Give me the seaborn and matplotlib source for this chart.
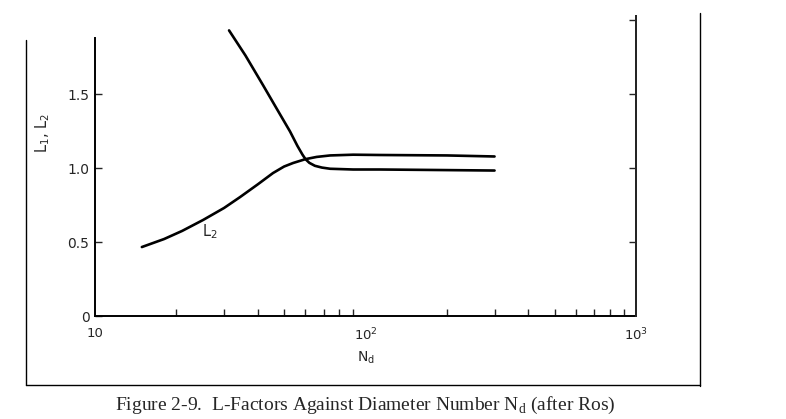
import numpy as np
import pandas as pd
import seaborn as sns
import matplotlib
matplotlib.use('Agg')
import matplotlib.pyplot as plt
from matplotlib.lines import Line2D
from matplotlib.ticker import FixedLocator, NullFormatter

# ── data ─────────────────────────────────────────────────────────
l1_nd = [31.3, 36, 41.8, 47, 52.6, 56, 58.5, 60, 62, 65, 69, 74, 90, 113, 173, 300]
l1_val = [1.93, 1.76, 1.56, 1.40, 1.247, 1.15, 1.09, 1.06, 1.035, 1.015, 1.003, 0.995,
          0.99, 0.99, 0.987, 0.983]
l2_nd = [14.9, 18, 21, 25.1, 30, 34.4, 40, 45.5, 50, 54, 60, 66, 74, 90, 113, 200, 300]
l2_val = [0.466, 0.52, 0.575, 0.649, 0.73, 0.804, 0.89, 0.966, 1.01, 1.034, 1.06,
          1.075, 1.085, 1.09, 1.088, 1.085, 1.078]
y_ticks = [0, 0.5, 1.0, 1.5]
y_tick_labels = ['0', '0.5', '1.0', '1.5']
right_ticks = [0.5, 1.0, 1.5, 2.0]
x_ticks = [10, 100, 1000]
x_tick_labels = ['10', '10$^2$', '10$^3$']

df1 = pd.DataFrame({'Nd': l1_nd, 'L': l1_val})
df2 = pd.DataFrame({'Nd': l2_nd, 'L': l2_val})

sns.set_style('ticks')
plt.rcParams['font.family'] = ['DejaVu Sans']

fig = plt.figure(figsize=(7.86, 4.19), dpi=100)
ax = fig.add_axes([95 / 786, 1 - 316 / 419, (636 - 95) / 786, (316 - 15.6) / 419])

sns.lineplot(data=df1, x='Nd', y='L', ax=ax, color='black', lw=1.9,
             sort=False, estimator=None)
sns.lineplot(data=df2, x='Nd', y='L', ax=ax, color='black', lw=1.9,
             sort=False, estimator=None)

ax.set_xscale('log')
ax.set_xlim(10, 1000)
ax.set_ylim(0, 2.03)

ax.xaxis.set_major_locator(FixedLocator(x_ticks))
ax.set_xticklabels(x_tick_labels)
minors = [m * 10 ** e for e in (1, 2) for m in range(2, 10)]
ax.xaxis.set_minor_locator(FixedLocator(minors))
ax.xaxis.set_minor_formatter(NullFormatter())
ax.tick_params(axis='x', which='major', direction='in', length=0, pad=8, labelsize=9.5)
ax.tick_params(axis='x', which='minor', direction='in', length=5, width=1)

ax.set_yticks(y_ticks)
ax.set_yticklabels(y_tick_labels)
ax.tick_params(axis='y', direction='in', length=5, width=1, labelsize=10, pad=4)

ax.spines['top'].set_visible(False)
ax.spines['left'].set_bounds(0, 1.88)
for s in ('left', 'bottom', 'right'):
    ax.spines[s].set_linewidth(1.4)
    ax.spines[s].set_color('black')

# right spine ticks (inward, no labels)
ax2 = ax.twinx()
ax2.set_ylim(ax.get_ylim())
ax2.set_yticks(right_ticks)
ax2.set_yticklabels([])
ax2.tick_params(axis='y', direction='in', length=5, width=1)
for s in ('top', 'left', 'bottom'):
    ax2.spines[s].set_visible(False)
ax2.spines['right'].set_linewidth(1.4)

ax.set_xlabel('N$_\\mathregular{d}$', fontsize=10, labelpad=4)
ax.set_ylabel('L$_\\mathregular{1}$, L$_\\mathregular{2}$', fontsize=10.5)
ax.yaxis.set_label_coords(-0.079, 0.61)
ax.text(26.6, 0.57, 'L$_\\mathregular{2}$', fontsize=10.5, ha='center', va='center')

# outer frame (no top line)
frame = dict(color='black', lw=1.0, transform=fig.transFigure)
fig.add_artist(Line2D([26 / 786, 26 / 786], [1 - 40 / 419, 1 - 385 / 419], **frame))
fig.add_artist(Line2D([26 / 786, 700 / 786], [1 - 385 / 419, 1 - 385 / 419], **frame))
fig.add_artist(Line2D([700 / 786, 700 / 786], [1 - 13 / 419, 1 - 386 / 419], **frame))

fig.text(365 / 786, 1 - 405 / 419,
         'Figure 2-9.  L-Factors Against Diameter Number N$_\\mathregular{d}$ (after Ros)',
         ha='center', va='center', fontsize=14, family=['Liberation Serif'])

fig.savefig('out.png', dpi=100)
